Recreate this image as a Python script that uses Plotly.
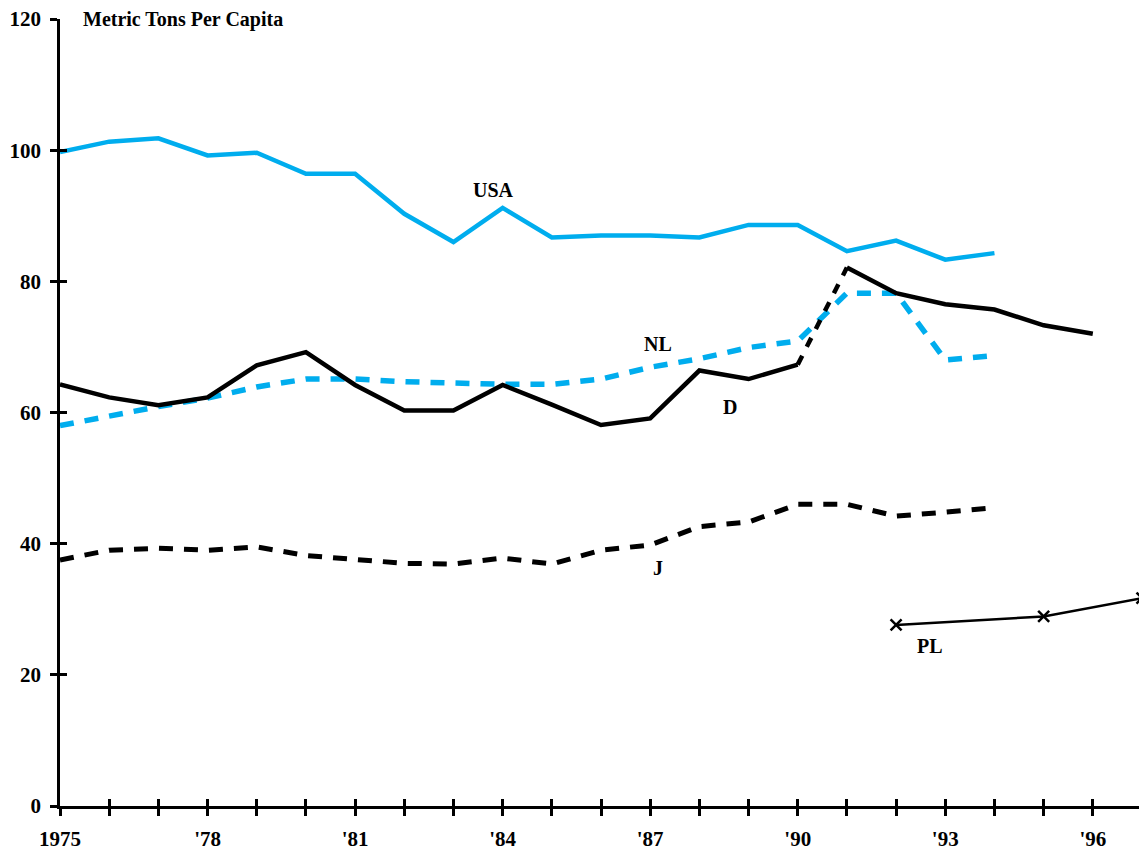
import plotly.graph_objects as go

years = list(range(1975, 1995))
usa = [99.7, 101.3, 101.8, 99.2, 99.6, 96.4, 96.4, 90.3, 86.0, 91.2, 86.7, 87.0, 87.0, 86.7, 88.6, 88.6, 84.6, 86.2, 83.3, 84.3]
nl = [58.0, 59.5, 60.9, 62.2, 63.9, 65.1, 65.1, 64.7, 64.4, 64.3, 64.3, 65.1, 66.9, 68.2, 69.9, 70.9, 78.2, 78.2, 68.0, 68.7]
j = [37.5, 39.0, 39.3, 39.0, 39.5, 38.2, 37.6, 37.0, 36.9, 37.8, 36.9, 39.0, 39.8, 42.6, 43.3, 46.0, 46.0, 44.2, 44.8, 45.5]
d_years = list(range(1975, 1997))
d = [64.3, 62.3, 61.1, 62.3, 67.2, 69.2, 64.2, 60.3, 60.3, 64.2, 61.2, 58.1, 59.1, 66.4, 65.1, 67.3, 82.1, 78.2, 76.5, 75.7, 73.3, 72.0]
pl_years = [1992, 1995, 1997]
pl = [27.6, 28.9, 31.7]

tick_years = list(range(1975, 1998))
tick_text = ["1975" if y == 1975 else ("'" + str(y)[2:] if (y - 1975) % 3 == 0 else "") for y in tick_years]
y_ticks = [0, 20, 40, 60, 80, 100, 120]

BLUE = "#00ADEE"
FONT = "Liberation Serif"

fig = go.Figure()
fig.add_trace(go.Scatter(x=years, y=usa, mode="lines", line=dict(color=BLUE, width=4.5)))
fig.add_trace(go.Scatter(x=years, y=nl, mode="lines", line=dict(color=BLUE, width=5.5, dash="14px,11px")))
fig.add_trace(go.Scatter(x=years, y=j, mode="lines", line=dict(color="black", width=5, dash="14px,11px")))
split = d_years.index(1990)
fig.add_trace(go.Scatter(x=d_years[:split + 1], y=d[:split + 1], mode="lines", line=dict(color="black", width=4.5)))
fig.add_trace(go.Scatter(x=d_years[split:split + 2], y=d[split:split + 2], mode="lines", line=dict(color="black", width=4.5, dash="10px,10px")))
fig.add_trace(go.Scatter(x=d_years[split + 1:], y=d[split + 1:], mode="lines", line=dict(color="black", width=4.5)))
fig.add_trace(go.Scatter(x=pl_years, y=pl, mode="lines+markers", line=dict(color="black", width=2.5),
                         marker=dict(symbol="x-thin", size=11, line=dict(color="black", width=2.5)),
                         cliponaxis=False))

labels = [("USA", 1983.82, 94.0), ("NL", 1987.16, 70.5), ("D", 1988.62, 60.9), ("J", 1987.16, 36.3), ("PL", 1992.69, 24.4)]
for txt, lx, ly in labels:
    fig.add_annotation(x=lx, y=ly, text="<b>" + txt + "</b>", showarrow=False,
                       font=dict(family=FONT, size=20, color="black"))

fig.add_annotation(x=22 / 1082, xref="paper", y=1.0, yref="paper", text="<b>Metric Tons Per Capita</b>",
                   showarrow=False, xanchor="left", yanchor="middle", borderpad=0,
                   font=dict(family=FONT, size=20, color="black"))

axis_common = dict(showgrid=False, zeroline=False, showline=True, linecolor="black", linewidth=2.5,
                   ticks="outside", ticklen=7, tickwidth=2.5, tickcolor="black", automargin=False,
                   ticklabeloverflow="allow",
                   tickfont=dict(family=FONT, size=21, color="black", weight="bold"))

# page body has an 8px margin; size the figure so the plot area lands where the reference has it
fig.update_layout(
    width=1139, height=845,
    margin=dict(l=52, r=5, t=11, b=47),
    paper_bgcolor="white", plot_bgcolor="white",
    showlegend=False,
    xaxis=dict(range=[1975, 1997], tickvals=tick_years, ticktext=tick_text, ticklabelstandoff=5, **axis_common),
    yaxis=dict(range=[0, 120], tickvals=y_ticks, ticklabelstandoff=5, **axis_common),
    xaxis2=dict(range=[1975, 1997], overlaying="x", showgrid=False, zeroline=False, showline=False,
                ticks="inside", ticklen=7, tickwidth=2.5, tickcolor="black", tickvals=tick_years,
                showticklabels=False, side="bottom", anchor="y2", automargin=False),
    yaxis2=dict(range=[0, 120], overlaying="y", showgrid=False, zeroline=False, showline=False,
                ticks="inside", ticklen=7, tickwidth=2.5, tickcolor="black", tickvals=y_ticks,
                showticklabels=False, side="left", anchor="x2", automargin=False),
)
fig.add_trace(go.Scatter(x=[1975], y=[0], xaxis="x2", yaxis="y2", mode="markers",
                         marker=dict(opacity=0), hoverinfo="skip"))

fig.write_html("out.html")
